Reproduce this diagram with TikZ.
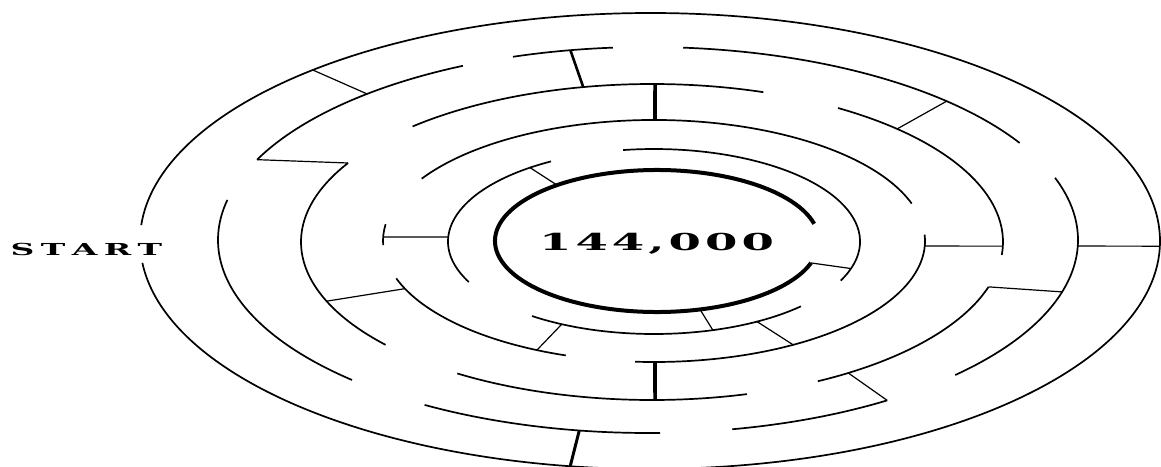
\documentclass[tikz,border=0pt]{standalone}
\usepackage{fontspec}
\usepackage{graphicx}
\newfontfamily\mazefont{DejaVu Serif}
\usetikzlibrary{calc}
\tikzset{
  mazering/.style={line width=1.7pt, black},
  goalring/.style={line width=4pt, black},
  mazewall/.style={line width=1.2pt, black},
  heavywall/.style={line width=3.6pt, black},
  mazetext/.style={inner sep=0pt, anchor=base},
}
% ring arcs: start angle, end angle (parametric, counter-clockwise)
\newcommand\arcA[2]{\draw[mazering] (c1) ++(#1:510pt and 228pt) arc[start angle=#1, end angle=#2, x radius=510pt, y radius=228pt];}
\newcommand\arcB[2]{\draw[mazering] (c2) ++(#1:430pt and 193pt) arc[start angle=#1, end angle=#2, x radius=430pt, y radius=193pt];}
\newcommand\arcC[2]{\draw[mazering] (c3) ++(#1:351pt and 158pt) arc[start angle=#1, end angle=#2, x radius=351pt, y radius=158pt];}
\newcommand\arcD[2]{\draw[mazering] (c4) ++(#1:271pt and 121pt) arc[start angle=#1, end angle=#2, x radius=271pt, y radius=121pt];}
\newcommand\arcE[2]{\draw[mazering] (c5) ++(#1:206pt and 92.5pt) arc[start angle=#1, end angle=#2, x radius=206pt, y radius=92.5pt];}
\newcommand\arcF[2]{\draw[goalring] (c6) ++(#1:162pt and 71pt) arc[start angle=#1, end angle=#2, x radius=162pt, y radius=71pt];}
% points on rings
\newcommand\PA[1]{($(c1)+(#1:510pt and 228pt)$)}
\newcommand\PB[1]{($(c2)+(#1:430pt and 193pt)$)}
\newcommand\PC[1]{($(c3)+(#1:351pt and 158pt)$)}
\newcommand\PD[1]{($(c4)+(#1:271pt and 121pt)$)}
\newcommand\PE[1]{($(c5)+(#1:206pt and 92.5pt)$)}
\newcommand\PF[1]{($(c6)+(#1:162pt and 71pt)$)}
\begin{document}
\begin{tikzpicture}[x=1pt,y=-1pt]
\useasboundingbox (0,0) rectangle (1161,466);
\fill[white] (0,0) rectangle (1161,466);
\clip (0,0) rectangle (1161,466);
\coordinate (c1) at (650,241);
\coordinate (c2) at (648,240);
\coordinate (c3) at (652,242);
\coordinate (c4) at (654,241);
\coordinate (c5) at (654,241.5);
\coordinate (c6) at (657,241);
% ring 1 (outer)
\arcA{185.5}{536}
% ring 2
\arcB{168}{226.5}
\arcB{238.7}{271.6}
\arcB{281.3}{303.8}
\arcB{315.6}{378.8}
\arcB{30.2}{85.3}
\arcB{94.7}{108.3}
\arcB{115.5}{155.4}
% ring 3
\arcC{150}{220.6}
\arcC{236.3}{285.7}
\arcC{298.2}{343.5}
\arcC{-4.7}{58}
\arcC{71.5}{133}
% ring 4
\arcD{18}{149}
\arcD{172}{182}
\arcD{198}{251}
\arcD{266}{363}
% ring 5
\arcE{-25}{98.6}
\arcE{120}{206}
\arcE{233.7}{315.5}
% ring 6 (goal)
\arcF{14}{342}
% walls
\draw[mazewall] \PA{131.4} -- \PB{130.8};
\draw[heavywall, line width=2.6pt] \PB{100.4} -- \PC{101.3};
\draw[heavywall] \PC{89.5} -- \PD{89.8};
\draw[mazewall] \PB{46} -- \PC{45.7};
\draw[mazewall] \PD{-2.4} -- \PC{-1.5};
\draw[mazewall] \PB{-1.8} -- \PA{-1.3};
\draw[mazewall] \PC{343.5} -- \PB{344.4};
\draw[mazewall] \PC{304} -- \PB{303.8};
\draw[heavywall, line width=3pt] \PB{260.8} -- \PA{261};
\draw[heavywall] \PD{270.2} -- \PC{270.5};
\draw[mazewall] \PE{243.4} -- \PD{244.4};
\draw[mazewall] \PF{285.4} -- \PE{286.6};
\draw[mazewall] \PE{300} -- \PD{300.9};
\draw[mazewall] \PF{342} -- \PE{343};
\draw[mazewall] \PE{127} -- \PF{128.1};
\draw[mazewall] \PB{155.4} -- \PC{150};
\draw[mazewall] \PC{202} -- \PD{203.2};
\draw[mazewall] \PD{178.1} -- \PE{177.2};
% texts
\node[mazetext, font=\mazefont\bfseries\fontsize{16.5}{20}\selectfont] (start) at (86.5,255)
  {\scalebox{2}[1]{S\kern3.2pt T\kern3.2pt A\kern3.2pt R\kern3.2pt T}};
\node[mazetext, font=\mazefont\bfseries\fontsize{23.3}{28}\selectfont] (goal) at (656.5,250)
  {\scalebox{2}[1]{1\kern2pt 4\kern2pt 4\kern2pt ,\kern2pt 0\kern2pt 0\kern2pt 0}};
\end{tikzpicture}
\end{document}
